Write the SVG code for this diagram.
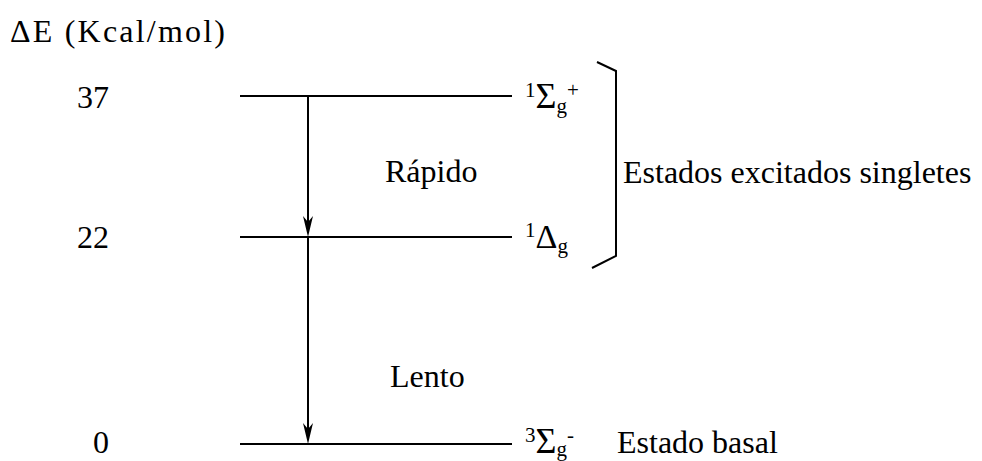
<svg xmlns="http://www.w3.org/2000/svg" width="982" height="461" viewBox="0 0 982 461">
<defs>
<style>
.lvl{stroke:#000;stroke-width:2;fill:none}
.head{fill:#000;stroke:none}
</style>
</defs>
<rect width="982" height="461" fill="#fff"/>
<text x="10" y="42" font-family="Liberation Serif" font-size="32" textLength="215" lengthAdjust="spacing">ΔE (Kcal/mol)</text>
<g id="level37">
<text x="77" y="108" font-family="Liberation Serif" font-size="32">37</text>
<line class="lvl" x1="240" y1="96" x2="512" y2="96"/>
<text x="525" y="108" font-family="Liberation Serif" font-size="32"><tspan font-size="21" dy="-11">1</tspan><tspan font-size="36" dy="11">Σ</tspan><tspan font-size="21" dy="5">g</tspan><tspan font-size="21" dy="-16">+</tspan></text>
</g>
<g id="level22">
<text x="77" y="248" font-family="Liberation Serif" font-size="32">22</text>
<line class="lvl" x1="240" y1="237" x2="512" y2="237"/>
<text x="525" y="248" font-family="Liberation Serif" font-size="32"><tspan font-size="21" dy="-11">1</tspan><tspan font-size="34" dy="11">Δ</tspan><tspan font-size="21" dy="5">g</tspan></text>
</g>
<g id="level0">
<text x="93" y="453" font-family="Liberation Serif" font-size="32">0</text>
<line class="lvl" x1="240" y1="444" x2="512" y2="444"/>
<text x="525" y="453" font-family="Liberation Serif" font-size="32"><tspan font-size="21" dy="-11">3</tspan><tspan font-size="36" dy="11">Σ</tspan><tspan font-size="21" dy="3">g</tspan><tspan font-size="21" dy="-14">-</tspan></text>
</g>
<g id="bracket">
<polyline class="lvl" points="597,62 616,71 616,256 592,268"/>
<text x="623" y="183" font-family="Liberation Serif" font-size="32">Estados excitados singletes</text>
</g>
<g id="basal">
<text x="617" y="453" font-family="Liberation Serif" font-size="32">Estado basal</text>
</g>
<g id="connectors">
<line class="lvl" x1="308" y1="96" x2="308" y2="225"/>
<polygon class="head" points="308,237 303,216 308,222 313,216"/>
<line class="lvl" x1="308" y1="237" x2="308" y2="432"/>
<polygon class="head" points="308,444 303,423 308,429 313,423"/>
<text x="385" y="182" font-family="Liberation Serif" font-size="32">Rápido</text>
<text x="390" y="387" font-family="Liberation Serif" font-size="32">Lento</text>
</g>
</svg>
